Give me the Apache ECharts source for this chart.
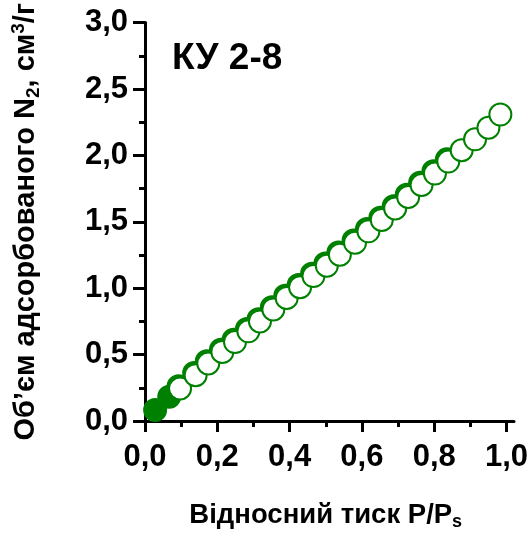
<!DOCTYPE html>
<html>
<head>
<meta charset="utf-8">
<script src="https://cdn.jsdelivr.net/npm/echarts@6/dist/echarts.min.js"></script>
<style>
  html, body { margin: 0; padding: 0; background: #fff; }
  #chart { width: 532px; height: 536px; }
</style>
</head>
<body>
<div id="chart"></div>
<script>
// Adsorption branch (filled markers): relative pressure P/Ps and adsorbed volume, cm3/g
const adsX = [0.028, 0.067, 0.093, 0.136, 0.171, 0.210, 0.245, 0.282, 0.314, 0.351, 0.388, 0.425,
              0.462, 0.499, 0.535, 0.577, 0.614, 0.651, 0.688, 0.724, 0.761, 0.798, 0.835];
const adsY = [0.082, 0.182, 0.262, 0.362, 0.450, 0.537, 0.611, 0.692, 0.767, 0.857, 0.943, 1.024,
              1.108, 1.186, 1.269, 1.359, 1.445, 1.531, 1.617, 1.704, 1.794, 1.880, 1.970];

// Desorption branch (open markers)
const desX = [0.097, 0.140, 0.175, 0.214, 0.249, 0.286, 0.318, 0.355, 0.392, 0.429, 0.466, 0.503,
              0.539, 0.581, 0.618, 0.655, 0.692, 0.728, 0.765, 0.802, 0.839, 0.876, 0.913, 0.950, 0.983];
const desY = [0.245, 0.345, 0.433, 0.520, 0.594, 0.675, 0.750, 0.840, 0.926, 1.007, 1.091, 1.169,
              1.252, 1.342, 1.428, 1.514, 1.600, 1.687, 1.777, 1.863, 1.953, 2.039, 2.121, 2.208, 2.307];

const sampleName = 'КУ 2-8';
const xTitle = 'Відносний тиск P/P';
const xTitleSub = 's';
const yTitleParts = ['Об’єм адсорбованого N', '2', ', см', '3', '/г'];

const green = '#008000';
const font = '"Liberation Sans", Arial, Helvetica, sans-serif';

const pairs = (xs, ys) => xs.map((x, i) => [x, ys[i]]);
const commaFmt = v => v.toFixed(1).replace('.', ',');

const chart = echarts.init(document.getElementById('chart'), null, { renderer: 'canvas' });

const axisLineStyle = { color: '#000', width: 3 };

chart.setOption({
  animation: false,
  backgroundColor: '#fff',
  title: {
    text: sampleName,
    left: 167,
    top: 35,
    textStyle: { fontFamily: font, fontWeight: 'bold', fontSize: 37, color: '#000' }
  },
  grid: [
    { left: 145, right: 25.5, top: 20.7, bottom: 115, containLabel: false },
    // slightly wider twin grid carrying only the overshooting bottom axis line
    { left: 145, right: 18, top: 20.7, bottom: 115, containLabel: false }
  ],
  xAxis: [
    {
      type: 'value',
      gridIndex: 0,
      min: 0, max: 1, interval: 0.2,
      name: '{m|' + xTitle + '}{s|' + xTitleSub + '}',
      nameLocation: 'middle',
      nameGap: 78,
      nameTextStyle: {
        rich: {
          m: { fontFamily: font, fontWeight: 'bold', fontSize: 27.5, color: '#000', lineHeight: 32 },
          s: { fontFamily: font, fontWeight: 'bold', fontSize: 18, color: '#000', lineHeight: 14, verticalAlign: 'bottom' }
        }
      },
      axisLine: { show: true, lineStyle: axisLineStyle },
      axisTick: { show: true, inside: false, length: 11, lineStyle: { color: '#000', width: 3 } },
      minorTick: { show: true, splitNumber: 2, length: 6, lineStyle: { color: '#000', width: 3 } },
      splitLine: { show: false },
      axisLabel: {
        formatter: commaFmt,
        margin: 21,
        fontFamily: font, fontWeight: 'bold', fontSize: 31, color: '#000'
      }
    },
    {
      type: 'value',
      gridIndex: 1,
      min: 0, max: 1,
      axisLine: { show: true, lineStyle: axisLineStyle },
      axisTick: { show: false },
      axisLabel: { show: false },
      splitLine: { show: false }
    }
  ],
  yAxis: [
    {
      type: 'value',
      gridIndex: 0,
      min: 0, max: 3, interval: 0.5,
      name: '{m|' + yTitleParts[0] + '}{sub|' + yTitleParts[1] + '}{m|' + yTitleParts[2] +
            '}{sup|' + yTitleParts[3] + '}{m|' + yTitleParts[4] + '}',
      nameLocation: 'middle',
      nameRotate: 90,
      nameGap: 102,
      nameTextStyle: {
        rich: {
          m: { fontFamily: font, fontWeight: 'bold', fontSize: 29, color: '#000', lineHeight: 34 },
          sub: { fontFamily: font, fontWeight: 'bold', fontSize: 19, color: '#000', lineHeight: 14, verticalAlign: 'bottom' },
          sup: { fontFamily: font, fontWeight: 'bold', fontSize: 19, color: '#000', lineHeight: 14, verticalAlign: 'top' }
        }
      },
      axisLine: { show: true, onZero: false, lineStyle: axisLineStyle },
      axisTick: { show: true, inside: false, length: 12, lineStyle: { color: '#000', width: 3 } },
      minorTick: { show: true, splitNumber: 2, length: 6, lineStyle: { color: '#000', width: 3 } },
      splitLine: { show: false },
      axisLabel: {
        formatter: commaFmt,
        margin: 17,
        fontFamily: font, fontWeight: 'bold', fontSize: 31, color: '#000'
      }
    },
    {
      type: 'value',
      gridIndex: 1,
      min: 0, max: 3,
      show: false
    }
  ],
  series: [
    {
      name: 'adsorption',
      type: 'scatter',
      xAxisIndex: 0, yAxisIndex: 0,
      data: pairs(adsX, adsY),
      symbol: 'circle',
      symbolSize: 22,
      itemStyle: { color: green, borderColor: green, borderWidth: 2, opacity: 1 },
      z: 2
    },
    {
      name: 'desorption',
      type: 'scatter',
      xAxisIndex: 0, yAxisIndex: 0,
      data: pairs(desX, desY),
      symbol: 'circle',
      symbolSize: 22,
      itemStyle: { color: '#fff', borderColor: green, borderWidth: 2, opacity: 1 },
      z: 3
    }
  ]
});
</script>
</body>
</html>
